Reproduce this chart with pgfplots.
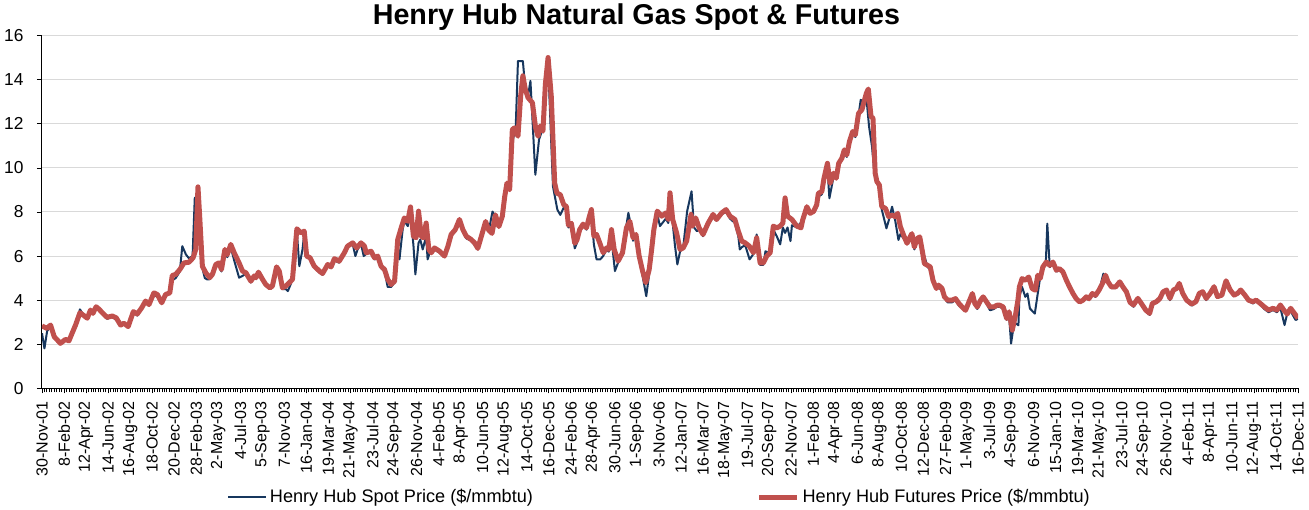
\documentclass[border=0pt]{standalone}
\usepackage{pgfplots}
\pgfplotsset{compat=1.18}
\usepackage{fontspec}
\setmainfont{Liberation Sans}
\definecolor{spot}{RGB}{23,55,94}
\definecolor{fut}{RGB}{192,80,77}
\begin{document}
\begin{tikzpicture}
\useasboundingbox (-31.5pt,-91.275pt) rectangle (950.25pt,291.225pt);
\begin{axis}[
  at={(0pt,0pt)}, anchor=south west,
  scale only axis, width=942pt, height=264.45pt,
  xmin=0, xmax=513, ymin=0, ymax=16,
  axis lines=left, axis line style={-, black, line width=0.75pt},
  tick align=outside,
  tick style={black, line width=0.6pt},
  major tick length=3.75pt, minor tick length=3pt,
  xtick={0,9,...,513},
  minor x tick num=8,
  xticklabels={30-Nov-01, 8-Feb-02, 12-Apr-02, 14-Jun-02, 16-Aug-02, 18-Oct-02, 20-Dec-02, 28-Feb-03, 2-May-03, 4-Jul-03, 5-Sep-03, 7-Nov-03, 16-Jan-04, 19-Mar-04, 21-May-04, 23-Jul-04, 24-Sep-04, 26-Nov-04, 4-Feb-05, 8-Apr-05, 10-Jun-05, 12-Aug-05, 14-Oct-05, 16-Dec-05, 24-Feb-06, 28-Apr-06, 30-Jun-06, 1-Sep-06, 3-Nov-06, 12-Jan-07, 16-Mar-07, 18-May-07, 19-Jul-07, 20-Sep-07, 22-Nov-07, 1-Feb-08, 4-Apr-08, 6-Jun-08, 8-Aug-08, 10-Oct-08, 12-Dec-08, 27-Feb-09, 1-May-09, 3-Jul-09, 4-Sep-09, 6-Nov-09, 15-Jan-10, 19-Mar-10, 21-May-10, 23-Jul-10, 24-Sep-10, 26-Nov-10, 4-Feb-11, 8-Apr-11, 10-Jun-11, 12-Aug-11, 14-Oct-11, 16-Dec-11},
  xticklabel style={rotate=90, anchor=east, font=\fontsize{12}{14}\selectfont, inner sep=0pt},
  xticklabel shift=6pt,
  ytick={0,2,...,16},
  yticklabel style={font=\fontsize{13}{15}\selectfont, inner sep=0pt},
  yticklabel shift=10pt,
  /pgf/number format/assume math mode=true,
  ymajorgrids, major grid style={draw=black!15, line width=0.75pt},
  title={Henry Hub Natural Gas Spot \& Futures},
  title style={font=\bfseries\fontsize{21.5}{24}\selectfont, at={(0.4733,1)}, anchor=base, yshift=2.5pt},
  legend style={at={(0.1473,-0.3083)}, anchor=west, draw=none, fill=none, legend columns=2,
    font=\fontsize{13.6}{16}\selectfont, inner sep=0pt,
    /tikz/every even column/.append style={column sep=166pt}},
  legend cell align=left,
  legend image code/.code={\draw[#1] (0pt,0pt) -- (28.5pt,0pt);},
]
\addplot[spot, line width=1.5pt, line join=round] table {
0 2.5
1 1.81
2.1 2.6
3.5 2.8
5 2.4
6.2 2.25
7.5 2.1
9.6 2.25
11 2.2
12 2.45
13.7 2.9
15.5 3.58
17.1 3.3
18.5 3.2
19.8 3.55
20.8 3.45
22.1 3.7
23.2 3.55
24.9 3.35
26.6 3.15
28.7 3.25
30.3 3.1
32.1 2.95
33.5 3.0
35.2 2.75
37.3 3.5
38.9 3.3
40.7 3.7
42.3 3.93
43.7 3.75
45.7 4.25
47.1 4.15
48.9 3.85
50.5 4.2
52.2 4.3
53.2 4.9
54.6 5.0
56.3 5.3
57.3 6.45
58.8 6.07
60 5.9
61.5 6.0
62.4 8.64
63.5 8.7
64.4 7.5
65.2 5.6
66.5 5.0
67.5 4.94
68.5 4.95
69.6 5.1
71 5.55
72.3 5.6
73.3 5.3
74.7 6.2
75.7 5.95
77.1 6.4
78.5 5.8
80.5 5.02
81.9 5.1
83.3 5.2
85.3 4.8
86.7 5.05
87.4 4.95
88.4 5.2
90.1 4.9
91.4 4.65
93.1 4.5
94.1 4.6
95.8 5.4
96.9 5.2
98.2 4.5
99.6 4.5
100.4 4.41
101.5 4.7
102.3 5.0
104.1 7.1
105.1 5.54
106.4 6.3
107.1 7.0
108.1 6.0
109.5 5.85
111.2 5.5
113.3 5.25
114.6 5.15
116.7 5.55
118.1 5.45
119.4 5.8
121.4 5.7
123.5 6.1
124.8 6.4
126.9 6.55
128 6.0
128.9 6.3
130.3 6.55
131.4 6.0
132.4 6.1
134.4 6.15
135.8 5.85
137.1 5.9
138.5 5.45
139.9 5.3
141.2 4.6
142.6 4.6
144 4.8
145.3 6.4
146 5.85
147.3 7.2
148 7.6
149.4 7.36
150.5 7.9
151.7 6.5
152.5 5.17
153.8 6.6
154.5 6.75
155.5 6.3
156.9 6.9
157.5 5.85
158.5 6.2
160.3 6.3
162.4 6.15
164.4 5.95
165.8 6.4
167.1 6.9
168.8 7.15
170.5 7.6
171.9 7.1
173.3 6.8
175.3 6.7
176.7 6.5
178 6.3
179.4 6.85
181.2 7.5
182.4 7.1
184 8.02
185.2 7.8
186.6 7.3
188 7.8
188.9 8.9
189.9 9.2
191 9.2
192.4 11.29
193.5 11.9
194.4 14.85
196.4 14.85
197.4 13.6
198.5 13.26
199.5 13.95
201.5 9.69
203 11.29
204.6 11.8
205 12.5
206.7 14.78
208.7 9.16
210.5 8.1
211.7 7.87
213.1 8.2
214.2 8.1
215 7.3
216.2 7.4
217.6 6.35
218.5 6.6
219.6 7.1
221 7.4
222.4 7.2
223.4 7.6
224.4 8.0
225.4 6.53
226.5 5.85
228 5.85
229.2 6.0
230.6 6.3
231.5 6.2
232.6 6.8
234 5.32
235.3 5.7
237.1 6.1
238.7 7.4
239.5 7.96
240.5 7.4
241.4 6.7
242.6 6.9
243.9 5.9
245.3 5.1
246.8 4.18
248 5.2
249 6.2
249.9 7.1
251.3 7.9
252.4 7.36
254.8 7.7
255.8 7.5
256.5 8.6
257.6 7.5
258.5 6.5
259.5 5.62
260.6 6.2
261.9 6.4
263.5 8.04
265.3 8.94
266.3 7.3
267.5 7.13
268.4 7.2
270 6.9
272.1 7.4
274.1 7.8
275.5 7.6
277.6 7.9
279.4 8.0
281 7.7
283 7.5
284.4 6.9
285 6.3
285.8 6.4
287.2 6.5
289 5.85
290.6 6.1
291.9 6.98
293.3 5.6
294.6 5.6
295.5 6.22
297.4 6.1
298.7 7.2
300.1 6.9
301.5 6.53
302.6 7.3
303.5 7.05
304.5 7.3
305.7 6.68
306.3 7.4
308.3 7.3
309.6 7.48
310.7 7.5
311.5 7.81
312.4 8.1
313.7 7.9
315.1 8.0
316.4 8.2
317.1 8.7
318.5 8.8
319.4 9.4
320.8 10.0
321.6 8.62
323.3 9.6
324.4 9.5
325.4 10.1
326.7 10.4
327.7 10.7
328.7 10.5
329.8 11.1
331.1 11.6
332.2 11.4
333.5 12.4
334.4 13.09
335.8 12.9
336.7 13.2
337.8 11.88
339 10.97
340 9.76
341 9.3
342 9.1
343 8.1
344.9 7.26
345.8 7.6
347.2 8.24
348.5 7.6
349.8 6.73
350.6 7.0
351.9 6.8
353.3 6.65
354.7 6.8
355.3 6.9
356.3 6.3
357.4 6.7
358.5 6.8
359.5 6.3
360.5 5.96
361.7 5.5
362.8 5.4
364.4 4.83
365.3 4.5
366.2 4.6
367.6 4.4
368.6 4.1
369.9 3.9
371.7 3.9
373.1 4.0
374.5 3.75
376.5 3.62
377.2 3.5
378.6 3.85
380 4.25
381 3.8
382 3.6
383.4 3.9
384.4 4.1
385.8 3.85
387.2 3.54
388.8 3.6
390 3.7
391.2 3.7
392.6 3.6
394 3.1
395 3.3
395.8 2.03
397 2.94
397.8 2.94
398.8 2.86
399.2 4.15
400.3 4.6
401.6 4.15
402.5 4.3
403.5 3.62
405.5 3.39
406.5 4.15
407.5 4.9
408.8 5.4
410 5.7
410.6 7.47
411.6 5.5
412.9 5.65
414.3 5.3
415.6 5.35
417 5.2
418.4 4.85
419.7 4.55
421.1 4.25
422.4 4.0
423.8 3.9
425.2 3.95
426.5 4.1
427.6 4.0
429 4.25
430.3 4.15
431.7 4.4
433.5 5.2
434.4 5.0
435.4 4.8
436.8 4.55
438.5 4.55
440.2 4.8
441.5 4.55
442.9 4.3
444.4 3.85
445.8 3.7
447.6 4.0
449 3.8
450.8 3.5
452.4 3.33
453.5 3.8
455.2 3.9
456.6 4.0
457.9 4.35
459.3 4.4
460.7 4.0
462.1 4.4
463.4 4.5
464.5 4.7
465.9 4.25
467.5 3.95
469.6 3.75
471.3 3.9
472.7 4.25
474.1 4.3
475.5 4.0
477.1 4.25
478.7 4.55
480.1 4.1
481.9 4.2
483.6 4.85
485.3 4.4
486.9 4.2
488.3 4.25
489.6 4.4
491.3 4.2
492.8 3.95
494.6 3.85
495.9 3.95
497.6 3.8
499.2 3.6
501 3.45
502.8 3.55
504.4 3.45
505.8 3.65
507.5 2.87
508.6 3.4
510 3.5
512 3.1
513 3.15
};
\addplot[fut, line width=3.75pt, line join=round] table {
0 2.83
2 2.72
3.5 2.87
5 2.34
6.2 2.2
7.5 2.04
9.6 2.22
11 2.15
12 2.42
13.7 2.87
15.5 3.43
17.1 3.3
18.5 3.18
19.8 3.55
20.8 3.4
22.1 3.70
23.2 3.6
24.9 3.40
26.6 3.22
28.7 3.28
30.3 3.2
32.1 2.87
33.5 2.95
35.2 2.80
37.3 3.48
38.9 3.37
40.7 3.65
42.3 3.96
43.7 3.8
45.7 4.33
47.1 4.26
48.9 3.88
50.5 4.26
52.2 4.33
53.2 5.12
54.6 5.17
56.3 5.39
58 5.69
60 5.72
61.7 5.92
62.8 6.3
63.7 9.14
64.4 7.81
65.5 5.54
66.9 5.24
68.5 5.02
69.6 5.17
71 5.62
72.3 5.69
73.3 5.39
74.7 6.3
75.7 6.07
77.1 6.53
78.5 6.15
80.5 5.69
81.9 5.32
83.3 5.24
85.3 4.86
86.7 5.1
87.4 5.02
88.4 5.27
90.1 4.94
91.4 4.71
93.1 4.56
94.1 4.64
95.8 5.51
96.9 5.32
98.2 4.56
99.6 4.64
101 4.79
102.3 4.94
104.1 7.24
105.8 7.05
107.1 7.13
108.1 6.0
109.5 5.92
111.2 5.54
113.3 5.32
114.6 5.21
116.7 5.62
118.1 5.51
119.4 5.88
121.4 5.77
123.5 6.15
124.8 6.45
126.9 6.6
128.5 6.37
130.3 6.6
131.7 6.45
132.4 6.15
134.4 6.22
135.8 5.92
137.1 6.0
138.5 5.54
139.9 5.39
141.2 4.94
142.6 4.71
144 4.86
145.3 6.75
146.7 7.28
148 7.73
149.4 7.58
150.5 8.23
151.7 6.9
152.8 6.83
153.8 8.04
154.9 6.9
155.8 6.83
156.9 7.5
158 6.3
159 6.15
160.3 6.37
162.4 6.22
164.4 6.0
165.8 6.45
167.1 6.98
168.8 7.2
170.5 7.66
171.9 7.2
173.3 6.9
175.3 6.75
176.7 6.6
178 6.35
179.4 6.88
181.2 7.57
182.4 7.19
183.8 7.03
185.2 7.87
186.6 7.34
188 7.8
189 8.71
189.9 9.31
191 9.01
192.1 11.74
193 11.82
194.4 11.44
195.5 13.26
196.4 14.18
197.4 13.57
198.5 13.19
200.3 12.96
201.6 11.82
202.6 11.44
203.5 11.9
204.6 11.67
205.6 13.8
206.7 15.01
208 13.26
209.4 9.31
210.3 8.86
211.7 8.78
213.1 8.33
214.2 8.25
215 7.4
216.2 7.49
217.6 6.58
218.5 6.73
219.6 7.2
221 7.45
222.4 7.28
223.4 7.73
224.4 8.11
225.4 6.9
226.5 6.98
227.8 6.6
229.2 6.15
230.6 6.37
231.5 6.3
232.6 7.2
233.7 6.3
235.3 5.77
237.1 6.15
238.7 7.28
240.1 7.58
241.4 6.83
242.6 6.98
243.9 6.0
245.3 5.32
246.6 4.79
248 5.39
249 6.3
249.9 7.2
251.3 8.04
253.1 7.81
254.8 7.96
255.8 7.66
256.5 8.87
257.6 7.66
259.2 7.05
260.6 6.3
261.9 6.37
263.3 6.68
265.1 7.89
265.7 7.36
267 7.73
268.4 7.28
270 6.98
272.1 7.5
274.1 7.89
275.5 7.66
277.6 7.96
279.4 8.11
281 7.81
283 7.66
284.4 7.13
285.8 6.68
287.2 6.6
288.9 6.45
290.6 6.15
291.9 6.83
293.3 5.69
294.6 5.69
296 6.0
297.4 6.15
298.7 7.36
300.1 7.28
301.5 7.36
302.6 7.5
303.5 8.64
304.5 7.81
306.3 7.66
308.3 7.36
310 7.28
310.7 7.64
312.4 8.24
313.7 7.94
315.1 8.02
316.4 8.32
317.1 8.85
318.5 8.92
319.4 9.53
320.8 10.21
321.9 9.3
323.3 9.76
324.4 9.53
325.4 10.21
326.7 10.44
327.7 10.82
328.7 10.59
329.8 11.2
331.1 11.65
332.2 11.5
333.5 12.48
334.9 12.64
335.8 13.02
336.7 13.39
337.5 13.58
338.6 12.33
339.4 12.26
340.3 9.76
341 9.38
342 9.23
343 8.24
344.5 8.17
345.8 7.79
347.2 7.86
348.5 7.79
349.5 7.94
350.6 7.33
351.9 6.95
353.3 6.58
354.7 6.9
355.3 7.02
356.3 6.41
357.4 6.79
358.5 6.87
359.5 6.26
360.4 5.66
361.7 5.58
362.8 5.51
363.9 4.9
365.3 4.53
366.2 4.68
367.6 4.53
368.6 4.15
369.9 4.0
371.7 4.0
373.1 4.07
374.5 3.85
375.8 3.69
377.2 3.54
378.6 3.92
380 4.3
381 3.85
382 3.69
383.4 4.0
384.4 4.15
385.8 3.92
387.2 3.69
388.8 3.69
390 3.77
391.2 3.77
392.6 3.69
394 3.17
395 3.47
396.3 2.64
397.6 3.32
398.6 4.0
399.2 4.6
400.3 4.98
401.6 4.9
403 5.05
404.4 4.53
405.7 4.45
406.7 5.13
407.7 4.98
408.8 5.51
410.2 5.73
411.6 5.58
412.9 5.73
414.3 5.36
415.6 5.43
417 5.28
418.4 4.9
419.7 4.6
421.1 4.3
422.4 4.07
423.8 3.92
425.2 4.0
426.5 4.15
427.6 4.07
429 4.3
430.3 4.22
431.7 4.45
433.1 4.75
434.4 5.13
435.4 4.83
436.8 4.6
438.5 4.6
440.2 4.83
441.5 4.6
442.9 4.38
444.4 3.9
445.8 3.78
447.6 4.08
449 3.85
450.8 3.55
452.4 3.4
453.5 3.85
455.2 3.93
456.6 4.08
457.9 4.38
459.3 4.46
460.7 4.08
462.1 4.46
463.4 4.53
464.5 4.76
465.9 4.31
467.5 4.0
469.6 3.82
471.3 3.93
472.7 4.31
474.1 4.38
475.5 4.08
477.1 4.31
478.7 4.61
480.1 4.16
481.9 4.23
483.6 4.88
485.3 4.46
486.9 4.23
488.3 4.31
489.6 4.46
491.3 4.23
492.8 4.0
494.6 3.93
495.9 4.0
497.6 3.85
499.2 3.7
501 3.55
502.8 3.63
504.4 3.55
505.8 3.78
507.2 3.55
508.6 3.37
510 3.63
513 3.18
};
\legend{Henry Hub Spot Price (\$/mmbtu), Henry Hub Futures Price (\$/mmbtu)}
\end{axis}
\end{tikzpicture}
\end{document}
